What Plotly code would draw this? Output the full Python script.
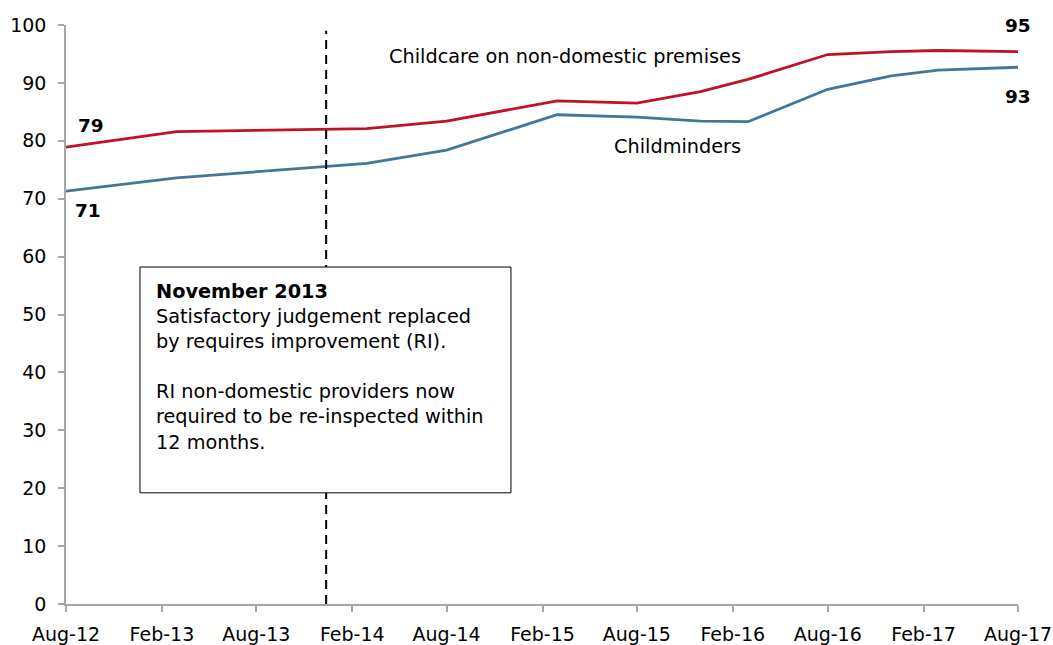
import plotly.graph_objects as go

# ---- data ----
dates = ["2012-08-01", "2013-03-01", "2014-03-01", "2014-08-01", "2015-03-01",
         "2015-08-01", "2015-12-01", "2016-03-01", "2016-08-01", "2016-12-01",
         "2017-03-01", "2017-08-01"]
non_domestic = [78.9, 81.6, 82.1, 83.4, 86.9, 86.5, 88.5, 90.6, 94.9, 95.4, 95.6, 95.4]
childminders = [71.3, 73.6, 76.1, 78.4, 84.5, 84.1, 83.4, 83.3, 88.9, 91.2, 92.2, 92.7]

tick_dates = ["2012-08-01", "2013-02-01", "2013-08-01", "2014-02-01", "2014-08-01",
              "2015-02-01", "2015-08-01", "2016-02-01", "2016-08-01", "2017-02-01",
              "2017-08-01"]
tick_labels = ["Aug-12", "Feb-13", "Aug-13", "Feb-14", "Aug-14", "Feb-15",
               "Aug-15", "Feb-16", "Aug-16", "Feb-17", "Aug-17"]
y_ticks = list(range(0, 101, 10))

event_date = "2013-12-13"

RED = "#C0102A"
BLUE = "#44769A"
AXIS = "#A6A6A6"
FONT = "DejaVu Sans"

fig = go.Figure()
fig.add_trace(go.Scatter(x=dates, y=non_domestic, mode="lines",
                         line=dict(color=RED, width=2.8), name="Childcare on non-domestic premises",
                         cliponaxis=False))
fig.add_trace(go.Scatter(x=dates, y=childminders, mode="lines",
                         line=dict(color=BLUE, width=2.8), name="Childminders",
                         cliponaxis=False))

fig.add_shape(type="line", xref="x", yref="y", x0=event_date, x1=event_date, y0=0, y1=99,
              line=dict(color="black", width=2, dash="9px,6px"), layer="above")
fig.add_shape(type="rect", xref="paper", yref="y", x0=0.0777, x1=0.4674, y0=19.2, y1=58.2,
              line=dict(color="black", width=1), fillcolor="white", layer="above")

fig.add_annotation(xref="paper", yref="y", x=0.0925, y=56.25, xanchor="left", yanchor="top",
                   align="left", showarrow=False,
                   text="<b>November 2013</b><br>Satisfactory judgement replaced<br>"
                        "by requires improvement (RI).<br><br>RI non-domestic providers now<br>"
                        "required to be re-inspected within<br>12 months.",
                   font=dict(family=FONT, size=19.3, color="black"))

lab = dict(family=FONT, size=18.5, color="black")
txt = dict(family=FONT, size=19.3, color="black")
common = dict(xref="paper", yref="y", showarrow=False, xanchor="center", yanchor="middle")
fig.add_annotation(x=0.0263, y=82.7, text="<b>79</b>", font=lab, **common)
fig.add_annotation(x=0.0231, y=67.9, text="<b>71</b>", font=lab, **common)
fig.add_annotation(x=1.0, y=100.0, text="<b>95</b>", font=lab, **common)
fig.add_annotation(x=1.0, y=87.6, text="<b>93</b>", font=lab, **common)
fig.add_annotation(x=0.524, y=94.5, text="Childcare on non-domestic premises", font=txt, **common)
fig.add_annotation(x=0.642, y=79.1, text="Childminders", font=txt, **common)

fig.update_layout(
    width=1053, height=645,
    margin=dict(l=66, r=35, t=25, b=41, autoexpand=False),
    paper_bgcolor="white", plot_bgcolor="white",
    showlegend=False,
    font=dict(family=FONT, size=19, color="black"),
    xaxis=dict(type="date", range=["2012-08-01", "2017-08-01"],
               tickvals=tick_dates, ticktext=tick_labels, automargin=False,
               showgrid=False, zeroline=False, showline=True, linecolor=AXIS, linewidth=1.5,
               ticks="outside", ticklen=6, tickcolor=AXIS, tickwidth=1.5, ticklabelstandoff=6,
               tickfont=dict(family=FONT, size=19, color="black")),
    yaxis=dict(range=[0, 100], tickvals=y_ticks, automargin=False,
               showgrid=False, zeroline=False, showline=True, linecolor=AXIS, linewidth=1.5,
               ticks="outside", ticklen=6, tickcolor=AXIS, tickwidth=1.5, ticklabelstandoff=8,
               tickfont=dict(family=FONT, size=19, color="black")),
)

fig.write_html("out.html", config={"displayModeBar": False},
               post_script="document.body.style.margin='0';document.body.style.overflow='hidden';")
